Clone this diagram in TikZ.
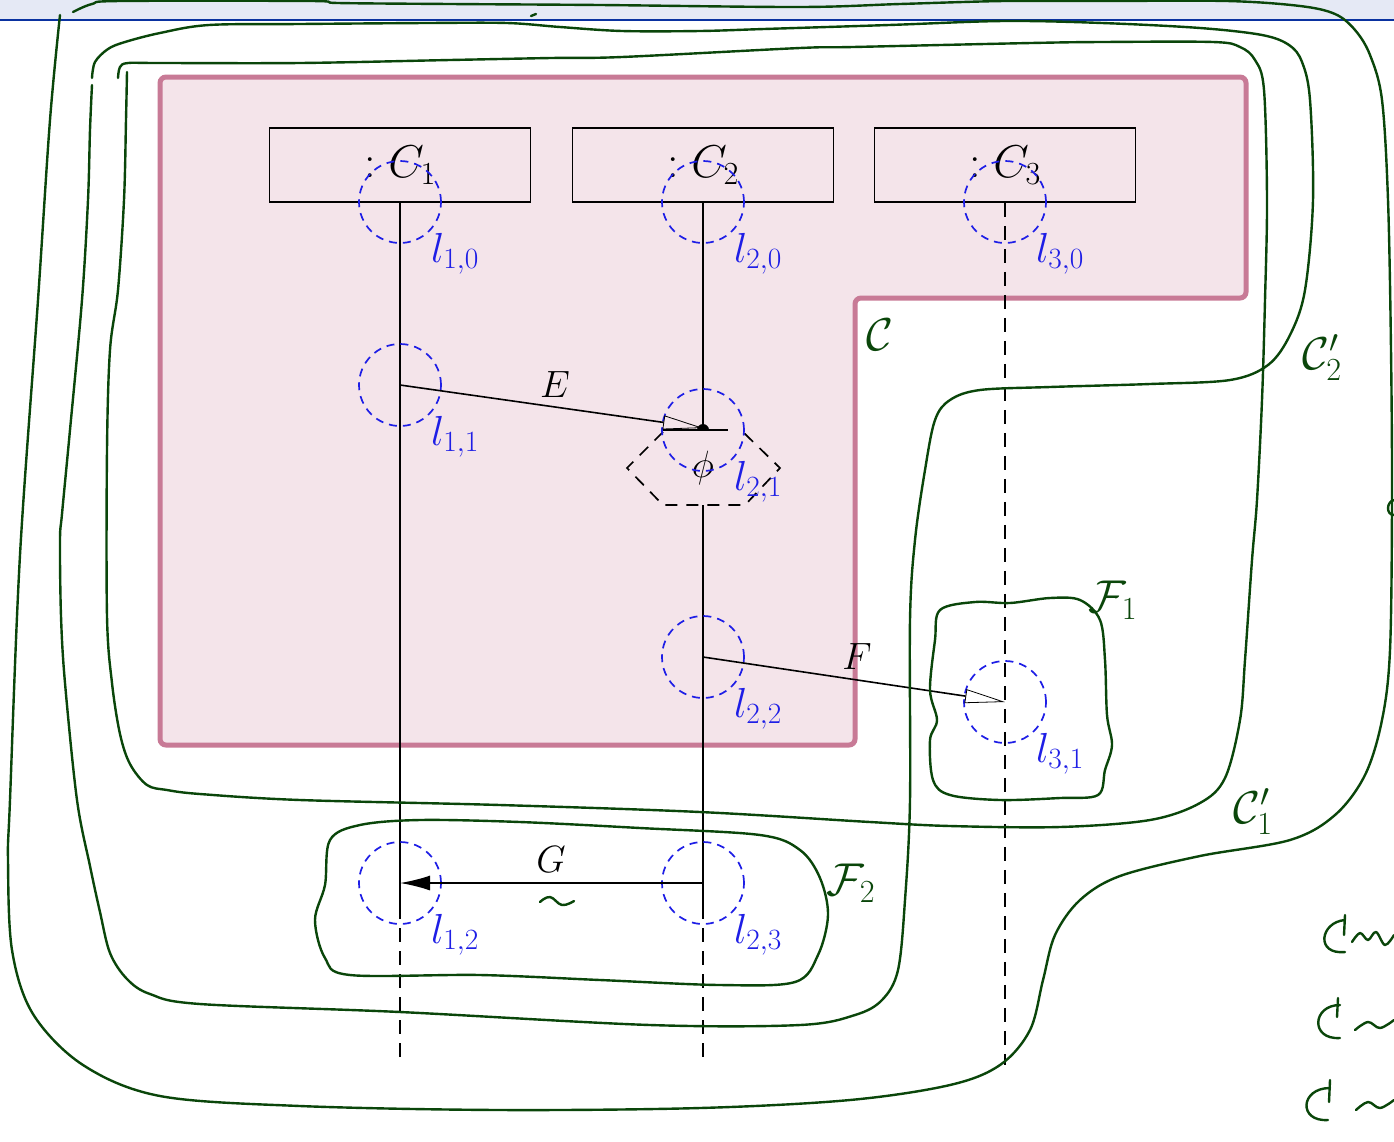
\RequirePackage{fix-cm}
\documentclass[tikz,border=0pt]{standalone}
\usetikzlibrary{arrows.meta,calc}

\definecolor{hand}{RGB}{10,70,10}
\definecolor{locblue}{RGB}{30,30,230}
\definecolor{pinkfill}{RGB}{244,228,234}
\definecolor{pinkedge}{RGB}{200,122,150}
\definecolor{bandfill}{RGB}{229,233,245}
\definecolor{bandline}{RGB}{10,50,160}

\tikzset{
  lifebox/.style={draw, line width=1.9pt, minimum width=261pt, minimum height=74pt,
    inner sep=0pt, font=\fontsize{46}{50}\selectfont},
  loc/.style={circle, draw=locblue, line width=1.7pt, dash pattern=on 8pt off 6pt,
    minimum size=82pt, inner sep=0pt},
  lbl/.style={text=locblue, font=\fontsize{42}{44}\selectfont, inner sep=0pt, anchor=base west},
  life/.style={line width=1.9pt},
  lifedash/.style={line width=1.9pt, dash pattern=on 14pt off 9pt},
  msg/.style={line width=1.6pt},
  msglbl/.style={font=\fontsize{38}{40}\selectfont, inner sep=0pt},
  hand/.style={draw=hand, line width=2.4pt, line cap=round, line join=round},
  handlbl/.style={text=hand, font=\fontsize{46}{48}\selectfont, inner sep=0pt},
  region/.style={draw=pinkedge, fill=pinkfill, line width=5pt, rounded corners=6pt},
}

\begin{document}
\begin{tikzpicture}[x=1pt, y=-1pt]
\useasboundingbox (0,0) rectangle (1394,1141);
\fill[white] (0,0) rectangle (1394,1141);

% header band
\fill[bandfill] (0,0) rectangle (1394,20);
\draw[bandline, line width=2.5pt] (0,20) -- (1394,20);

% region C
\draw[region] (160,77) -- (1246,77) -- (1246,298) -- (855,298) -- (855,745) -- (160,745) -- cycle;

% lifeline heads
\node[lifebox] (C1) at (400,165) {$:C_1$};
\node[lifebox] (C2) at (703,165) {$:C_2$};
\node[lifebox] (C3) at (1005,165) {$:C_3$};

% lifeline anchor points
\coordinate (c1s) at (400,905);
\coordinate (c1e) at (400,1065);
\coordinate (c2a) at (703,428);
\coordinate (c2b) at (703,505);
\coordinate (c2s) at (703,905);
\coordinate (c2e) at (703,1065);
\coordinate (c3e) at (1005,1065);

% lifelines
\draw[life] (C1.south) -- (c1s);
\draw[lifedash] (c1s) -- (c1e);
\draw[life] (C2.south) -- (c2a);
\draw[life] (c2b) -- (c2s);
\draw[lifedash] (c2s) -- (c2e);
\draw[lifedash] (C3.south) -- (c3e);

% condition hexagon with phi
\node[font=\fontsize{38}{40}\selectfont, inner sep=0pt] (phi) at (703,468) {$\phi$};
\draw[line width=1.7pt, dash pattern=on 12pt off 9pt] (663,432) -- (627,468) -- (663,505) -- (745,505) -- (780,468) -- (743,432);
\draw[line width=2pt] (663,430) -- (728,430);
\fill (697,430) arc[start angle=180, end angle=0, radius=6pt] -- cycle;

% locations
\node[loc] (l10) at (400,202) {};
\node[loc] (l20) at (703,202) {};
\node[loc] (l30) at (1005,202) {};
\node[loc] (l11) at (400,385) {};
\node[loc] (l21) at (703,430) {};
\node[loc] (l22) at (703,657) {};
\node[loc] (l31) at (1005,702) {};
\node[loc] (l12) at (400,883) {};
\node[loc] (l23) at (703,883) {};

\path (l10) ++(31,60) node[lbl] {$l_{1,0}$};
\path (l20) ++(31,60) node[lbl] {$l_{2,0}$};
\path (l30) ++(31,60) node[lbl] {$l_{3,0}$};
\path (l11) ++(31,60) node[lbl] {$l_{1,1}$};
\path (l21) ++(31,60) node[lbl] {$l_{2,1}$};
\path (l22) ++(31,60) node[lbl] {$l_{2,2}$};
\path (l31) ++(31,60) node[lbl] {$l_{3,1}$};
\path (l12) ++(31,60) node[lbl] {$l_{1,2}$};
\path (l23) ++(31,60) node[lbl] {$l_{2,3}$};

% messages
\draw[msg, -{Triangle[open, length=40pt, width=14pt, line width=0.8pt]}] (l11.center) -- (c2a);
\draw[msg, -{Triangle[open, length=40pt, width=14pt, line width=0.8pt]}] (l22.center) -- (l31.center);
\draw[msg, -{Latex[length=30pt, width=15pt]}] (l23.center) -- (l12.center);
\node[msglbl] (E) at (555,385) {$E$};
\node[msglbl] (F) at (857,657) {$F$};
\node[msglbl] (G) at (551,860) {$G$};

% hand-drawn outline: outermost
\draw[hand] plot[smooth, tension=0.55] coordinates {
  (73,12) (92,4) (120,1) (311,1) (338,3) (450,4) (600,5) (800,7) (900,4) (1004,1)
  (1100,1) (1227,1) (1300,6) (1335,14) (1355,30) (1370,55) (1382,100) (1388,200)
  (1391,350) (1392,500) (1390,650) (1382,720) (1365,775) (1335,815) (1290,840)
  (1200,856) (1120,876) (1080,900) (1055,935) (1043,980) (1030,1030) (1000,1065)
  (950,1085) (850,1100) (700,1108) (500,1110) (300,1106) (160,1096) (83,1065)
  (33,1014) (12,950) (8,860) (10,800) (20,555) (38,300) (50,120) (60,15)};

% hand-drawn outline C2'
\draw[hand] plot[smooth, tension=0.55] coordinates {
  (92,78) (95,62) (108,49) (125,42) (160,33) (209,25) (300,24) (427,23) (507,23)
  (560,27) (622,31) (700,31) (764,29) (889,25) (1004,21) (1102,23) (1200,28)
  (1262,35) (1289,45) (1302,62) (1310,100) (1313,200) (1305,290) (1290,335)
  (1268,365) (1230,380) (1150,384) (1050,387) (980,390) (950,400) (935,420)
  (925,470) (915,540) (910,620) (910,800) (905,900) (898,970) (882,1000)
  (855,1015) (800,1025) (650,1025) (400,1012) (200,1004) (150,994) (127,979)
  (110,953) (100,912) (90,866) (77,800) (65,683) (61,616) (60,540) (62,514)
  (70,430) (82,300) (88,200) (90,130) (92,85)};

% hand-drawn outline C1'
\draw[hand] plot[smooth, tension=0.55] coordinates {
  (118,78) (120,67) (128,63) (160,63) (300,63) (450,60) (551,58) (622,57) (800,48)
  (853,47) (1031,43) (1102,42) (1213,42) (1240,47) (1255,60) (1264,90) (1267,200)
  (1265,300) (1262,400) (1257,500) (1252,560) (1245,660) (1240,720) (1225,778)
  (1200,803) (1150,820) (1060,827) (950,826) (870,822) (700,812) (500,805)
  (300,800) (200,794) (167,790) (147,785) (130,764) (120,734) (112,683)
  (107,616) (107,450) (110,350) (118,290) (124,200) (126,120) (127,72)};

% hand-drawn outline F1
\draw[hand] plot[smooth cycle, tension=0.55] coordinates {
  (940,610) (975,602) (1010,603) (1050,598) (1080,600) (1100,620) (1105,660)
  (1107,715) (1112,745) (1105,770) (1098,795) (1060,798) (1000,800) (950,795)
  (933,780) (930,740) (937,720) (930,690) (935,640)};

% hand-drawn outline F2
\draw[hand] plot[smooth cycle, tension=0.55] coordinates {
  (330,840) (360,825) (420,820) (520,822) (640,828) (760,835) (800,850) (820,878)
  (828,915) (818,955) (795,982) (720,985) (600,980) (480,975) (350,975) (325,958)
  (315,920) (325,885)};

% hand-written names
\node[handlbl] (nC) at (880,335) {$\mathcal{C}$};
\node[handlbl] (nC2) at (1322,358) {$\mathcal{C}_2'$};
\node[handlbl] (nC1) at (1253,812) {$\mathcal{C}_1'$};
\node[handlbl] (nF1) at (1113,600) {$\mathcal{F}_1$};
\node[handlbl] (nF2) at (851,883) {$\mathcal{F}_2$};

% tilde under G
\draw[hand] plot[smooth, tension=0.7] coordinates {(540,902) (550,897) (562,905) (574,901)};

% margin notes at the right edge
\draw[hand] (1345,920) .. controls (1320,922) and (1315,955) .. (1345,952);
\draw[hand] (1345,915) -- (1344,935);
\draw[hand] plot[smooth, tension=0.6] coordinates {(1352,942) (1360,933) (1368,940) (1376,932) (1385,945) (1394,935)};
\draw[hand] (1340,1005) .. controls (1312,1005) and (1310,1040) .. (1340,1038);
\draw[hand] (1338,998) -- (1337,1017);
\draw[hand] plot[smooth, tension=0.6] coordinates {(1355,1030) (1368,1022) (1380,1028) (1394,1020)};
\draw[hand] (1330,1088) .. controls (1300,1088) and (1298,1122) .. (1328,1120);
\draw[hand] (1330,1080) -- (1329,1102);
\draw[hand] plot[smooth, tension=0.6] coordinates {(1356,1110) (1368,1102) (1380,1108) (1394,1100)};
\draw[hand] (1394,500) .. controls (1386,502) and (1386,515) .. (1394,515);
\draw[hand] (531,16) -- (536,14);
\end{tikzpicture}
\end{document}
